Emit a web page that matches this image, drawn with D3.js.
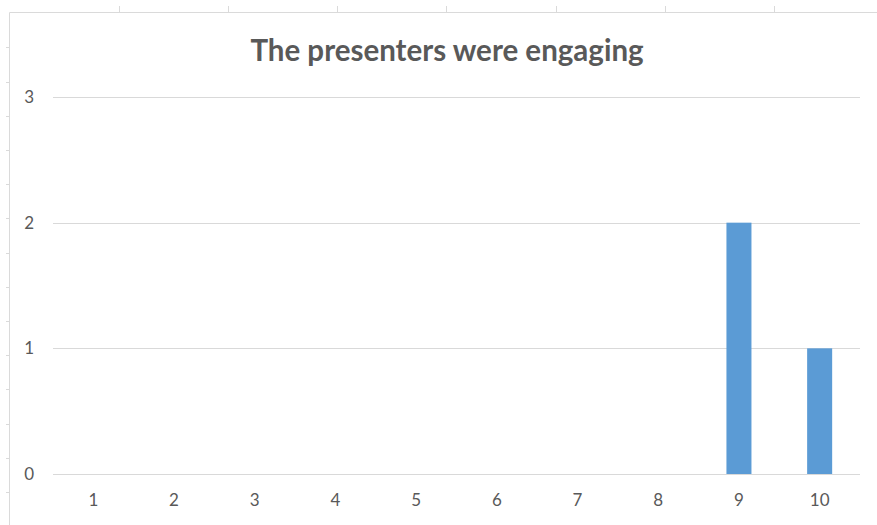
<!DOCTYPE html>
<html>
<head>
<meta charset="utf-8">
<script src="https://cdn.jsdelivr.net/npm/d3@7"></script>
<style>
  html, body { margin: 0; padding: 0; background: #fff; }
  svg { display: block; }
  text { font-family: Lato, "Open Sans", sans-serif; }
</style>
</head>
<body>
<svg id="chart" width="877" height="525"></svg>
<script>
// Survey responses: rating (1–10) and number of respondents
const ratings = ["1", "2", "3", "4", "5", "6", "7", "8", "9", "10"];
const counts = [0, 0, 0, 0, 0, 0, 0, 0, 2, 1];
const yTicks = [0, 1, 2, 3];
const chartTitle = "The presenters were engaging";

const svg = d3.select("#chart");
const W = 877, H = 525;
const margin = { top: 97, right: 17, bottom: 51, left: 53 };

// Sheet cell lines around the embedded chart
const sheet = svg.append("g").attr("stroke", "#dadada").attr("stroke-width", 1);
sheet.append("line").attr("x1", 9.5).attr("x2", W).attr("y1", 12.5).attr("y2", 12.5);
sheet.append("line").attr("x1", 9.5).attr("x2", 9.5).attr("y1", 12.5).attr("y2", H);
[119, 228, 337, 446, 556, 665, 774].forEach(x =>
  sheet.append("line").attr("x1", x + 0.5).attr("x2", x + 0.5).attr("y1", 6).attr("y2", 12));
[47, 82, 116, 150, 184, 218, 253, 287, 321, 355, 389, 424, 458, 492].forEach(y =>
  sheet.append("line").attr("x1", 6).attr("x2", 9).attr("y1", y + 0.5).attr("y2", y + 0.5));

const x = d3.scaleBand()
  .domain(ratings)
  .range([margin.left, W - margin.right])
  .paddingInner(0.69)
  .paddingOuter(0.345);

const y = d3.scaleLinear()
  .domain([0, 3])
  .range([H - margin.bottom, margin.top]);

// Horizontal gridlines
svg.append("g")
  .selectAll("line")
  .data(yTicks)
  .join("line")
  .attr("x1", margin.left)
  .attr("x2", W - margin.right)
  .attr("y1", d => Math.round(y(d)) + 0.5)
  .attr("y2", d => Math.round(y(d)) + 0.5)
  .attr("stroke", "#d9d9d9")
  .attr("stroke-width", 1);

// Bars
svg.append("g")
  .selectAll("rect")
  .data(ratings.map((r, i) => ({ r, v: counts[i] })))
  .join("rect")
  .attr("x", d => x(d.r))
  .attr("width", x.bandwidth())
  .attr("y", d => y(d.v))
  .attr("height", d => y(0) - y(d.v))
  .attr("fill", "#5b9bd5");

// Y axis labels
const yAxis = svg.append("g")
  .attr("transform", `translate(${margin.left},0)`)
  .call(d3.axisLeft(y).tickValues(yTicks).tickFormat(d3.format("d")).tickSize(0).tickPadding(19));
yAxis.select(".domain").remove();
yAxis.selectAll("text").attr("fill", "#595959").attr("font-size", 17);

// X axis labels
const xAxis = svg.append("g")
  .attr("transform", `translate(0,${H - margin.bottom})`)
  .call(d3.axisBottom(x).tickSize(0).tickPadding(20));
xAxis.select(".domain").remove();
xAxis.selectAll("text").attr("fill", "#595959").attr("font-size", 17);

// Title
svg.append("text")
  .attr("x", 447)
  .attr("y", 61)
  .attr("text-anchor", "middle")
  .attr("font-size", 29.5)
  .attr("font-weight", "bold")
  .attr("fill", "#595959")
  .text(chartTitle);
</script>
</body>
</html>
